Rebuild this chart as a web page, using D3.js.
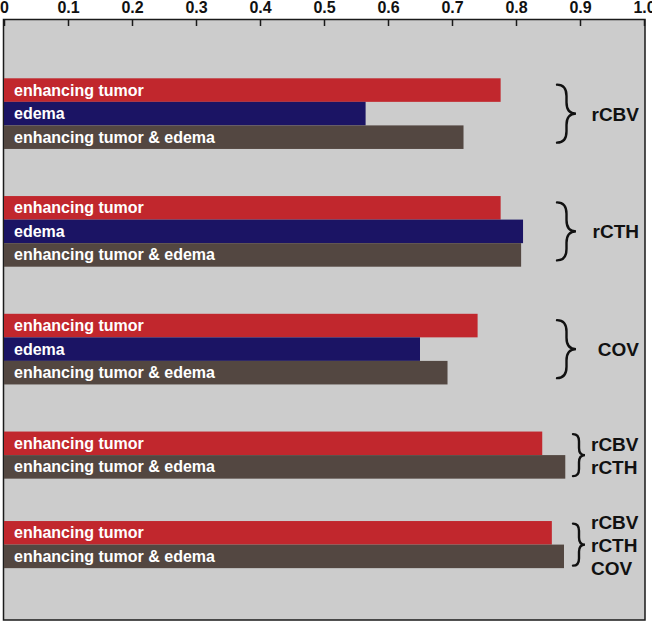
<!DOCTYPE html>
<html>
<head>
<meta charset="utf-8">
<script src="https://cdn.jsdelivr.net/npm/d3@7"></script>
<style>
  body { margin: 0; background: #fff; }
  svg { display: block; font-family: "Liberation Sans", Arial, Helvetica, sans-serif; font-weight: bold; }
</style>
</head>
<body>
<script>
// data
var groupLabels = [["rCBV"], ["rCTH"], ["COV"], ["rCBV", "rCTH"], ["rCBV", "rCTH", "COV"]];
var seriesNames = ["enhancing tumor", "edema", "enhancing tumor & edema"];
var tumorValues = [0.776, 0.776, 0.740, 0.841, 0.856];
var edemaValues = [0.565, 0.811, 0.650, null, null];
var bothValues = [0.718, 0.808, 0.693, 0.877, 0.875];
var tickValues = [0, 0.1, 0.2, 0.3, 0.4, 0.5, 0.6, 0.7, 0.8, 0.9, 1.0];

var colors = ["#c1272d", "#1b1464", "#534741"];

var width = 652, height = 622;
var frame = {left: 3.5, right: 645, top: 19.5, bottom: 620};

var x = d3.scaleLinear().domain([0, 1]).range([4, 644]);

// lay the bars out as rows, about two empty rows between groups
var rows = [];
var groups = [];
var r = 0;
tumorValues.forEach(function(v, g) {
	var vals = [tumorValues[g], edemaValues[g], bothValues[g]];
	var first = r;
	vals.forEach(function(val, s) {
		if (val === null) return;
		rows.push({group: g, series: s, value: val, row: r});
		r++;
	});
	groups.push({index: g, first: first, last: r - 1, labels: groupLabels[g]});
	r += (g === tumorValues.length - 2) ? 1.8 : 2;
});

var rowH = 23.55;
var y = d3.scaleLinear().domain([0, 1]).range([78.3, 78.3 + rowH]);

var svg = d3.select("body").append("svg")
	.attr("width", width)
	.attr("height", height);

svg.append("rect")
	.attr("x", frame.left)
	.attr("y", frame.top)
	.attr("width", frame.right - frame.left)
	.attr("height", frame.bottom - frame.top)
	.attr("fill", "#cccccc")
	.attr("stroke", "#1a1a1a")
	.attr("stroke-width", 1.5);

var axis = d3.axisTop(x)
	.tickValues(tickValues)
	.tickSizeInner(-6.5)
	.tickSizeOuter(0)
	.tickPadding(7)
	.tickFormat(function(d) { return d === 0 ? "0" : d.toFixed(1); });

var ax = svg.append("g")
	.attr("transform", "translate(0," + frame.top + ")")
	.call(axis);
ax.select(".domain").remove();
ax.selectAll(".tick line").attr("stroke", "#1a1a1a").attr("stroke-width", 1.5);
ax.selectAll(".tick text")
	.attr("fill", "#111")
	.style("font-size", "16px")
	.style("font-weight", "bold")
	.style("font-family", "'Liberation Sans', Arial, Helvetica, sans-serif");

var bars = svg.append("g").selectAll("g")
	.data(rows)
	.enter()
	.append("g");

bars.append("rect")
	.attr("x", x(0))
	.attr("y", function(d) { return y(d.row); })
	.attr("width", function(d) { return x(d.value) - x(0); })
	.attr("height", rowH)
	.attr("fill", function(d) { return colors[d.series]; });

bars.append("text")
	.attr("x", x(0) + 10)
	.attr("y", function(d) { return y(d.row) + rowH / 2 + 5.5; })
	.attr("fill", "#fff")
	.style("font-size", "16px")
	.text(function(d) { return seriesNames[d.series]; });

var bracePath = function(x0, y0, y1, w) {
	var ym = (y0 + y1) / 2;
	var xm = x0 + w / 2;
	var rr = Math.min(w * 0.6, (y1 - y0) / 4);
	return "M" + x0 + "," + y0 +
		"Q" + xm + "," + y0 + " " + xm + "," + (y0 + rr) +
		"L" + xm + "," + (ym - rr) +
		"Q" + xm + "," + ym + " " + (x0 + w) + "," + ym +
		"Q" + xm + "," + ym + " " + xm + "," + (ym + rr) +
		"L" + xm + "," + (y1 - rr) +
		"Q" + xm + "," + y1 + " " + x0 + "," + y1;
};

var braces = svg.append("g").selectAll("g")
	.data(groups)
	.enter()
	.append("g");

braces.append("path")
	.attr("d", function(d) {
		var top = y(d.first), bottom = y(d.last + 1);
		var mid = (top + bottom) / 2;
		var three = d.last - d.first >= 2;
		var half = three ? 29 : 21;
		var bx = three ? 557 : 573;
		var bw = three ? 19 : 12;
		return bracePath(bx, mid - half, mid + half, bw);
	})
	.attr("fill", "none")
	.attr("stroke", "#111")
	.attr("stroke-width", 2.4)
	.attr("stroke-linecap", "round");

braces.each(function(d) {
	var top = y(d.first), bottom = y(d.last + 1);
	var mid = (top + bottom) / 2;
	var three = d.last - d.first >= 2;
	var n = d.labels.length;
	var t = d3.select(this).append("text")
		.attr("fill", "#111")
		.style("font-size", "19px")
		.attr("text-anchor", three ? "end" : "start");
	d.labels.forEach(function(lab, i) {
		t.append("tspan")
			.attr("x", three ? 639 : 591)
			.attr("y", mid + (i - (n - 1) / 2) * 23 + 7)
			.text(lab);
	});
});
</script>
</body>
</html>
